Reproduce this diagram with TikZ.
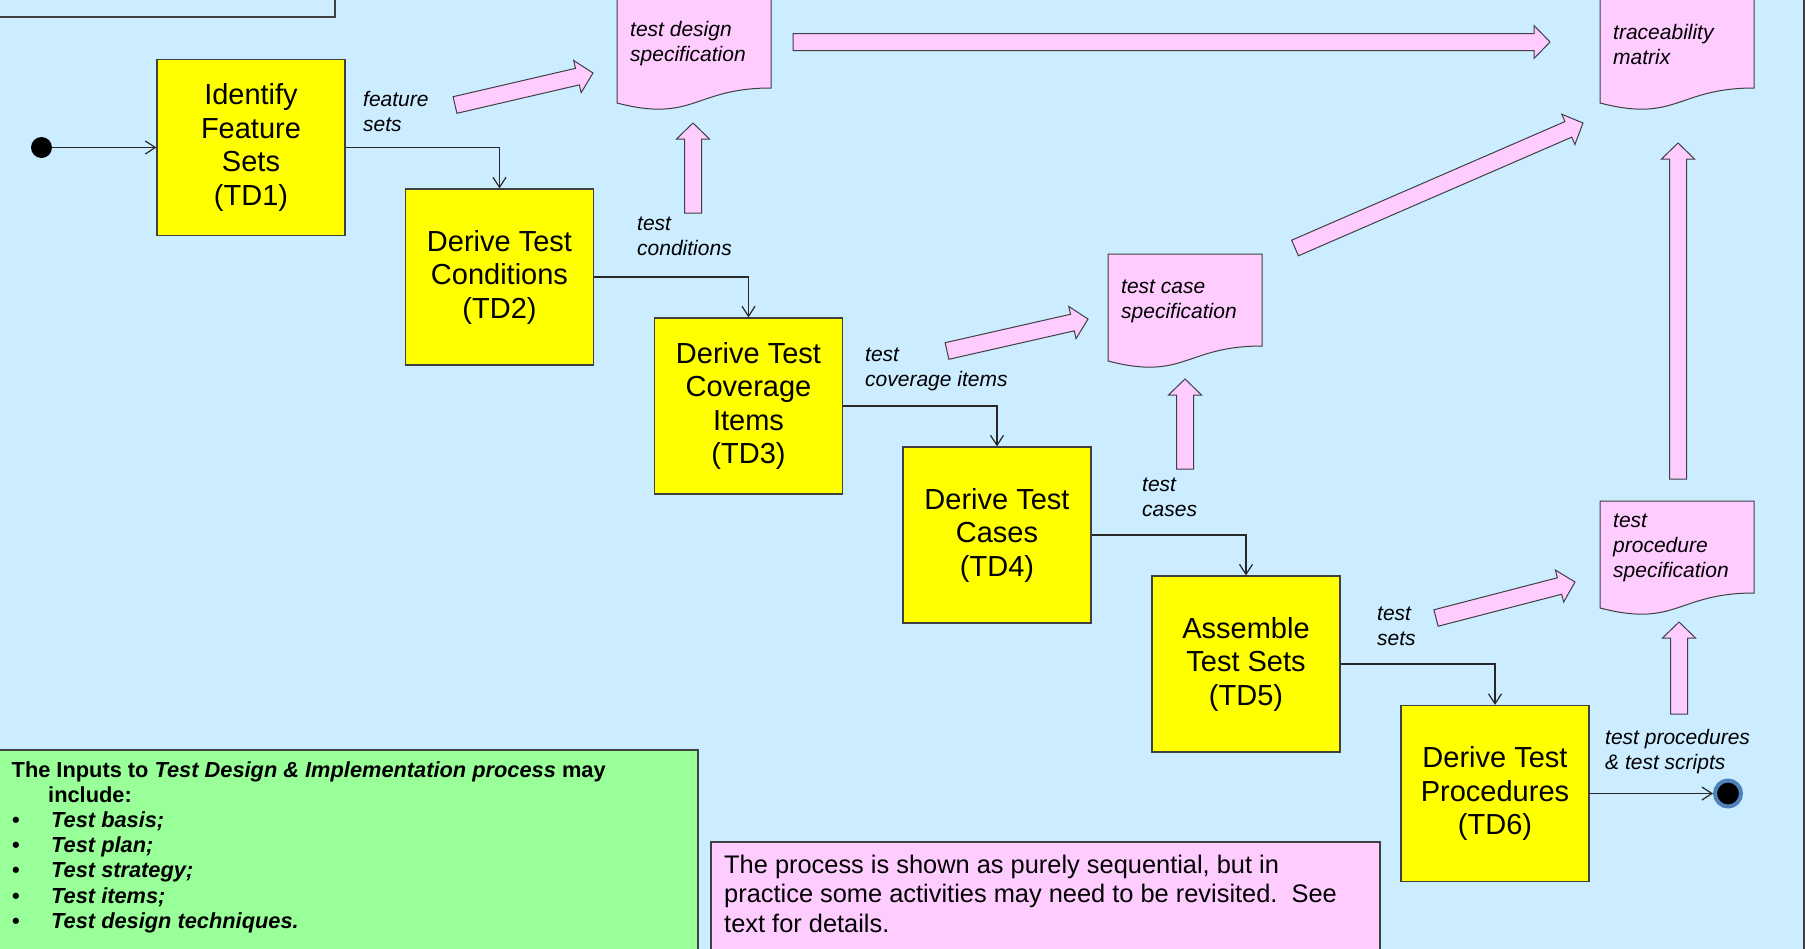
\documentclass[tikz,border=0pt]{standalone}
\usepackage{fontspec}
\setmainfont{Liberation Sans}
\usetikzlibrary{calc,arrows.meta}
\definecolor{bgc}{RGB}{204,236,255}
\definecolor{procy}{RGB}{255,255,0}
\definecolor{pinkc}{RGB}{255,204,255}
\definecolor{greenc}{RGB}{153,255,153}
\definecolor{bordc}{RGB}{64,64,64}
\definecolor{linec}{RGB}{40,40,40}
\definecolor{endblue}{RGB}{79,129,189}
\newcommand{\docat}[2]{%
  \draw[docshape] (#1,#2) -- (#1+154,#2) -- (#1+154,#2+92) .. controls (#1+77,#2+92) and (#1+77,#2+127) .. (#1,#2+107) -- cycle;}
\newcommand{\barrow}[3]{%
  \coordinate (#3h) at ($(#2)!16pt!(#1)$);
  \draw[blockarrow] ($(#1)!8.5pt!90:(#2)$) -- ($(#3h)!8.5pt!90:(#2)$) -- ($(#3h)!16.5pt!90:(#2)$) -- (#2) -- ($(#3h)!16.5pt!-90:(#2)$) -- ($(#3h)!8.5pt!-90:(#2)$) -- ($(#1)!8.5pt!-90:(#2)$) -- cycle;}
\begin{document}
\begin{tikzpicture}[x=1pt,y=-1pt,
  proc/.style={draw=bordc, line width=1.2pt, fill=procy, minimum width=188pt, minimum height=176pt, align=center, inner sep=0pt, font=\fontsize{29}{33.5}\selectfont},
  lbl/.style={anchor=west, align=left, inner sep=0pt, font=\fontsize{21}{25}\selectfont\itshape},
  conn/.style={draw=linec, line width=1.2pt, -{Straight Barb[length=10pt,width=13pt,line width=1.2pt]}},
  blockarrow/.style={draw=bordc, line width=1pt, fill=pinkc},
  docshape/.style={draw=bordc, line width=1pt, fill=pinkc},
  gtxt/.style={anchor=base west, inner sep=0pt, font=\fontsize{21.8}{25}\selectfont\bfseries},
  ptxt/.style={anchor=base west, inner sep=0pt, font=\fontsize{25.4}{29.4}\selectfont}
  ]
\useasboundingbox (0,0) rectangle (1807,948);
\fill[white] (0,0) rectangle (1807,948);
\draw[fill=bgc, draw=bordc, line width=1.2pt] (-20,-20) rectangle (1804,970);
\draw[fill=bgc, draw=bordc, line width=1.2pt] (-20,-20) rectangle (335,17);

% process boxes
\node[proc] (td1) at (251,147.5) {Identify\\Feature\\Sets\\(TD1)};
\node[proc] (td2) at (499.5,277) {Derive Test\\Conditions\\(TD2)};
\node[proc] (td3) at (748.5,406) {Derive Test\\Coverage\\Items\\(TD3)};
\node[proc] (td4) at (997,535) {Derive Test\\Cases\\(TD4)};
\node[proc] (td5) at (1246,664) {Assemble\\Test Sets\\(TD5)};
\node[proc] (td6) at (1495,793.5) {Derive Test\\Procedures\\(TD6)};

% start and end
\node[circle, fill=black, minimum size=21pt, inner sep=0pt] (start) at (41.5,147.5) {};
\node[circle, fill=black, draw=endblue, line width=4pt, minimum size=26pt, inner sep=0pt] (end) at (1728,793.5) {};

% connectors
\draw[conn] (start) -- (td1);
\draw[conn] (td1.east) -| (td2.north);
\draw[conn] (td2.east) -| (td3.north);
\draw[conn] (td3.east) -| (td4.north);
\draw[conn] (td4.east) -| (td5.north);
\draw[conn] (td5.east) -| (td6.north);
\draw[conn] (td6) -- (end);

% labels
\node[lbl] (lfs) at (363,111) {feature\\sets};
\node[lbl] (ltc) at (637,236) {test\\conditions};
\node[lbl] (ltci) at (865,369) {test\\coverage items};
\node[lbl] (ltcs) at (1142,497) {test\\cases};
\node[lbl] (lts) at (1377,626) {test\\sets};
\node[lbl] (ltp) at (1605,752) {test procedures\\\& test scripts};

% documents
\docat{617}{-4}
\node[lbl] (tds) at (630,44) {test design\\specification};
\docat{1600}{-4}
\node[lbl] (trm) at (1613,44) {traceability\\matrix};
\docat{1108}{254}
\node[lbl] (tcs) at (1121,301) {test case\\specification};
\docat{1600}{501}
\node[lbl] (tps) at (1613,548) {test\\procedure\\specification};

% block arrows
\coordinate (a1t) at (455,105); \coordinate (a1h) at (593,73);
\coordinate (a2t) at (693,213); \coordinate (a2h) at (693,123);
\coordinate (a3t) at (793,42); \coordinate (a3h) at (1550,42);
\coordinate (a4t) at (947,351); \coordinate (a4h) at (1088,319);
\coordinate (a5t) at (1185,469); \coordinate (a5h) at (1185,379);
\coordinate (a6t) at (1295,248); \coordinate (a6h) at (1583,123);
\coordinate (a7t) at (1436,618); \coordinate (a7h) at (1575,582);
\coordinate (a8t) at (1679,714); \coordinate (a8h) at (1679,622);
\coordinate (a9t) at (1678,479); \coordinate (a9h) at (1678,143);
\barrow{a1t}{a1h}{b1}
\barrow{a2t}{a2h}{b2}
\barrow{a3t}{a3h}{b3}
\barrow{a4t}{a4h}{b4}
\barrow{a5t}{a5h}{b5}
\barrow{a6t}{a6h}{b6}
\barrow{a7t}{a7h}{b7}
\barrow{a8t}{a8h}{b8}
\barrow{a9t}{a9h}{b9}

% green inputs box
\draw[fill=greenc, draw=bordc, line width=1.2pt] (-20,750) rectangle (698,970);
\node[gtxt] (g1) at (11.5,777) {The Inputs to \textit{Test Design \& Implementation process} may};
\node[gtxt] (g2) at (48,802) {include:};
\foreach \t [count=\i] in {Test basis;,Test plan;,Test strategy;,Test items;,Test design techniques.} {
  \node[gtxt] (gb\i) at (12,802+25.3*\i) {•};
  \node[gtxt] (gi\i) at (51,802+25.3*\i) {\textit{\t}};
}

% pink note box
\draw[fill=pinkc, draw=bordc, line width=1.2pt] (711,842) rectangle (1380,970);
\node[ptxt] (p1) at (724,873) {The process is shown as purely sequential, but in};
\node[ptxt] (p2) at (724,902) {practice some activities may need to be revisited.\ \ See};
\node[ptxt] (p3) at (724,932) {text for details.};
\end{tikzpicture}
\end{document}
